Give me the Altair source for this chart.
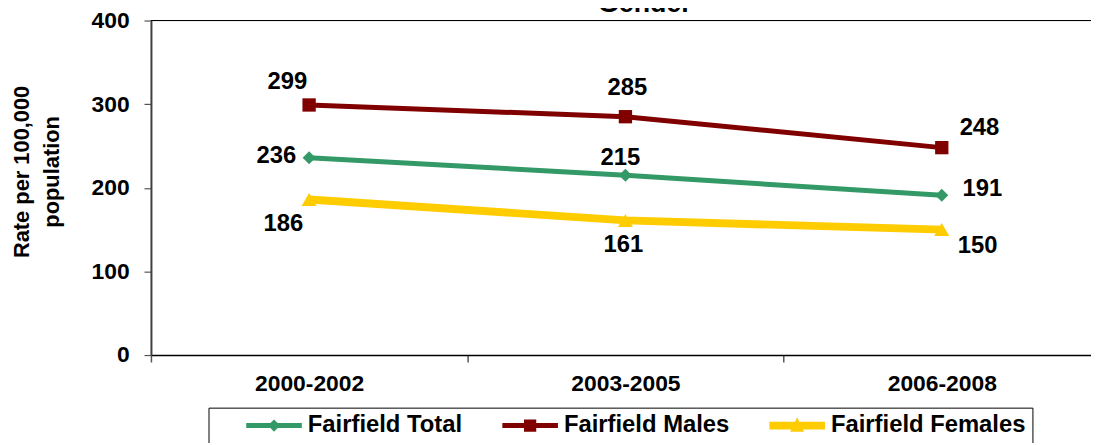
import altair as alt
import pandas as pd

periods = ["2000-2002", "2003-2005", "2006-2008"]
series_names = ["Fairfield Total", "Fairfield Males", "Fairfield Females"]
total = [236, 215, 191]
males = [299, 285, 248]
females = [186, 161, 150]
y_ticks = [0, 100, 200, 300, 400]
y_top = 400

colors = ["#339966", "#800000", "#FFCC00"]
line_widths = [5, 5, 8]
marker_shapes = ["diamond", "square", "triangle-up"]
marker_sizes = [170, 180, 230]
legend_paths = [
    "M-1,-0.09 L-0.13,-0.09 L0,-0.22 L0.13,-0.09 L1,-0.09 L1,0.09 L0.13,0.09 L0,0.22 L-0.13,0.09 L-1,0.09 Z",
    "M-1,-0.09 L-0.22,-0.09 L-0.22,-0.22 L0.22,-0.22 L0.22,-0.09 L1,-0.09 L1,0.09 L0.22,0.09 L0.22,0.22 L-0.22,0.22 L-0.22,0.09 L-1,0.09 Z",
    "M-1,-0.14 L-0.077,-0.14 L0,-0.3 L0.077,-0.14 L1,-0.14 L1,0.14 L0.2115,0.14 L0.25,0.22 L-0.25,0.22 L-0.2115,0.14 L-1,0.14 Z",
]
# label offsets (dx, dy) per series, per period
label_offsets = [
    [(-33, -2), (-5, -17), (41, -6)],
    [(-22, -23), (2, -29), (38, -20)],
    [(-26, 25), (-2, 25), (36, 17)],
]

FONT = "Liberation Sans"

rows = []
for name, vals in zip(series_names, [total, males, females]):
    for p, v in zip(periods, vals):
        rows.append({"period": p, "series": name, "value": v})
df = pd.DataFrame(rows)

W, H = 947, 337

xscale = alt.Scale(type="band", domain=periods, range=[0, 956], paddingInner=0, paddingOuter=0)
yscale = alt.Scale(domain=[0, 400], nice=False, zero=True)

x_axis = alt.Axis(
    orient="bottom", title=None, labelAngle=0, labelFont=FONT, labelFontWeight="bold",
    labelFontSize=23, labelColor="black", labelPadding=11, tickBand="extent",
    tickSize=7, tickColor="#555555", tickWidth=1.5, domainColor="black", domainWidth=1.5,
    grid=False)
y_axis = alt.Axis(
    values=y_ticks, title=["Rate per 100,000", "population"], titleFont=FONT,
    titleFontSize=22, titleFontWeight="bold", titleColor="black", titleLineHeight=30,
    titleBaseline="alphabetic", titleX=-123, titleY=152, titleAlign="center",
    labelFont=FONT, labelFontSize=23, labelFontWeight="bold", labelColor="black",
    labelPadding=15, tickSize=7, tickColor="#555555", tickWidth=1.2,
    domainColor="#404040", domainWidth=2, grid=False)


def X():
    return alt.X("period:N", sort=periods, scale=xscale, axis=x_axis)


def Y(field="value:Q"):
    return alt.Y(field, scale=yscale, axis=y_axis)


base = alt.Chart(df)
layers = []

# top border of the plot area at the top of the value scale
layers.append(alt.Chart(pd.DataFrame({"top": [y_top]})).mark_rule(color="black", strokeWidth=1.2).encode(
    y=Y("top:Q")))

for i, name in enumerate(series_names):
    sub = base.transform_filter(alt.datum.series == name)
    layers.append(sub.mark_line(strokeWidth=line_widths[i], color=colors[i]).encode(x=X(), y=Y()))
    layers.append(sub.mark_point(shape=marker_shapes[i], size=marker_sizes[i], filled=True,
                                 opacity=1, color=colors[i]).encode(x=X(), y=Y()))

for i, name in enumerate(series_names):
    for j, p in enumerate(periods):
        dx, dy = label_offsets[i][j]
        sub = base.transform_filter((alt.datum.series == name) & (alt.datum.period == p))
        layers.append(sub.mark_text(font=FONT, fontSize=24, fontWeight="bold", color="black",
                                    align="center", baseline="middle", dx=dx, dy=dy).encode(
            x=X(), y=Y(), text=alt.Text("value:Q")))

legend = alt.Legend(
    orient="none", legendX=58, legendY=390, direction="horizontal", columns=3, title=None,
    labelFont=FONT, labelFontSize=24, labelFontWeight="bold", labelColor="black",
    symbolSize=3136, clipHeight=24, symbolOffset=31, labelOffset=5,
    strokeColor="black", padding=6, columnPadding=8, labelLimit=400)

legend_layer = base.transform_filter("false").mark_point(filled=True, opacity=1).encode(
    color=alt.Color("series:N", scale=alt.Scale(domain=series_names, range=colors), legend=legend),
    shape=alt.Shape("series:N", scale=alt.Scale(domain=series_names, range=legend_paths), legend=legend),
)
layers.append(legend_layer)

chart = alt.layer(*layers).properties(
    width=W, height=H,
    autosize=alt.AutoSizeParams(type="none"),
    padding={"left": 144, "top": 11, "right": 0, "bottom": 87},
    title=alt.TitleParams("Gender", anchor="middle", dx=24, offset=-29, baseline="alphabetic",
                          font=FONT, fontSize=27, fontWeight="bold", color="black"),
).configure_view(strokeWidth=0).configure(background="white")

chart.save("out.html", embed_options={"renderer": "svg", "actions": False})
